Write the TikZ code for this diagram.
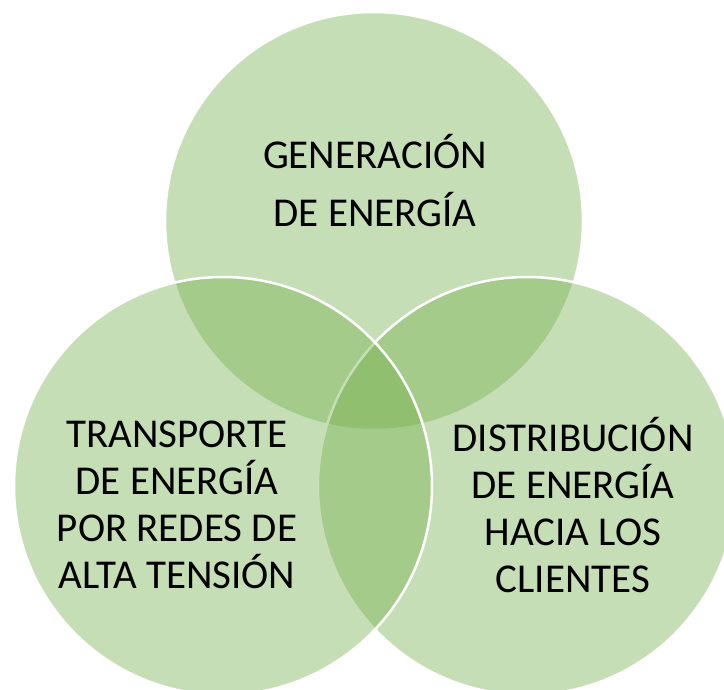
\documentclass[tikz,border=0pt]{standalone}
\usepackage{fontspec}
\setmainfont{Carlito}
\definecolor{venngreen}{HTML}{70AD47}
\tikzset{
  venn/.style={circle, minimum size=418pt, inner sep=0pt, fill=venngreen, fill opacity=0.4, draw=white, line width=2.5pt},
  label/.style={text=black, align=center, inner sep=0pt, font=\fontsize{41}{47}\selectfont}
}
\begin{document}
\begin{tikzpicture}[x=1pt, y=-1pt]
\useasboundingbox (0,0) rectangle (724,690);
\clip (0,0) rectangle (724,690);
\node[venn] (gen) at (374,221) {};
\node[venn] (dist) at (527,486) {};
\node[venn] (trans) at (223,486) {};
\node[label, font=\fontsize{41}{58}\selectfont] (tgen) at (375,181) {GENERACIÓN\\DE ENERGÍA};
\node[label] (ttrans) at (177,505) {TRANSPORTE\\DE ENERGÍA\\POR REDES DE\\ALTA TENSIÓN};
\node[label] (tdist) at (573,505) {DISTRIBUCIÓN\\DE ENERGÍA\\HACIA LOS\\CLIENTES};
\end{tikzpicture}
\end{document}
